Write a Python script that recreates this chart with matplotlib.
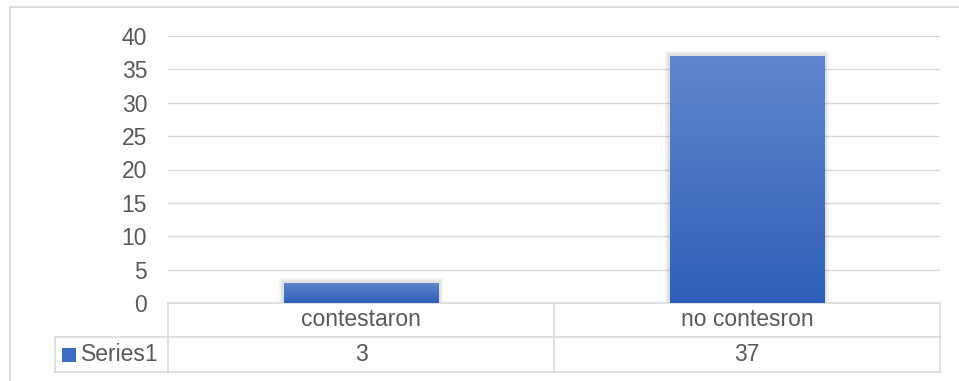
import matplotlib
matplotlib.use('Agg')
import matplotlib.pyplot as plt
import numpy as np
from matplotlib.patches import Rectangle
from matplotlib.lines import Line2D
from matplotlib import patheffects as pe
from matplotlib.colors import LinearSegmentedColormap

# datos del grafico
categorias = ['contestaron', 'no contesron']
valores = [3, 37]
serie = 'Series1'
yticks = [0, 5, 10, 15, 20, 25, 30, 35, 40]

gris_texto = '#595959'
gris_linea = '#d9d9d9'
plt.rcParams['font.family'] = ['Liberation Sans', 'DejaVu Sans']
plt.rcParams['font.size'] = 16.5

W, H = 959, 381
fig = plt.figure(figsize=(W / 100, H / 100), dpi=100)
ax = fig.add_axes([168 / W, (H - 303) / H, 772 / W, 267 / H])

x = np.arange(len(categorias))
bars = ax.bar(x, valores, width=0.40, color='#4472c4', zorder=2,
              path_effects=[pe.Stroke(linewidth=7, foreground='#000000', alpha=0.05),
                            pe.Stroke(linewidth=4, foreground='#000000', alpha=0.07),
                            pe.Normal()])

# degradado en cada barra (claro arriba, oscuro abajo)
cmap = LinearSegmentedColormap.from_list('grad', ['#2e5fb8', '#6286cd'])
grad = np.linspace(0, 1, 256).reshape(-1, 1)
for b in bars:
    x0, y0 = b.get_x(), b.get_y()
    im = ax.imshow(grad, cmap=cmap, origin='lower', aspect='auto',
                   extent=[x0, x0 + b.get_width(), y0, y0 + b.get_height()], zorder=3)
    im.set_clip_path(b)

ax.set_xlim(-0.5, len(categorias) - 0.5)
ax.set_ylim(0, 40)
ax.set_yticks(yticks)
ax.set_xticks([])
ax.tick_params(axis='y', length=0, pad=15, labelcolor=gris_texto)
for s in ax.spines.values():
    s.set_visible(False)
ax.grid(axis='y', color=gris_linea, linewidth=1.0, zorder=0)
ax.set_axisbelow(True)

# tabla de datos debajo del grafico
r1 = -34 / 267
r2 = -69 / 267
izq = -113 / 772
lk = dict(color=gris_linea, linewidth=1.1, clip_on=False, transform=ax.transAxes)
ax.add_line(Line2D([0, 1], [0, 0], **lk))
ax.add_line(Line2D([izq, 1], [r1, r1], **lk))
ax.add_line(Line2D([izq, 1], [r2, r2], **lk))
ax.add_line(Line2D([izq, izq], [r1, r2], **lk))
for i in range(len(categorias) + 1):
    xf = i / len(categorias)
    ax.add_line(Line2D([xf, xf], [0, r2], **lk))

tr = ax.get_xaxis_transform()
for i, (c, v) in enumerate(zip(categorias, valores)):
    ax.text(i, r1 / 2, c, transform=tr, ha='center', va='center', color=gris_texto)
    ax.text(i, (r1 + r2) / 2, str(v), transform=tr, ha='center', va='center', color=gris_texto)

ax.add_patch(Rectangle((-106 / 772, (r1 + r2) / 2 - 7 / 267), 14 / 772, 14 / 267,
                       transform=ax.transAxes, clip_on=False, facecolor='#3f6bc2',
                       edgecolor='none'))
ax.text(-87 / 772, (r1 + r2) / 2, serie, transform=ax.transAxes, ha='left',
        va='center', color=gris_texto)

# borde exterior (solo arriba e izquierda visibles)
top = (H - 7) / H
fig.add_artist(Line2D([9.5 / W, 1], [top, top], color=gris_linea, linewidth=1.2))
fig.add_artist(Line2D([9.5 / W, 9.5 / W], [0, top], color=gris_linea, linewidth=1.2))

fig.savefig('out.png', dpi=100)
